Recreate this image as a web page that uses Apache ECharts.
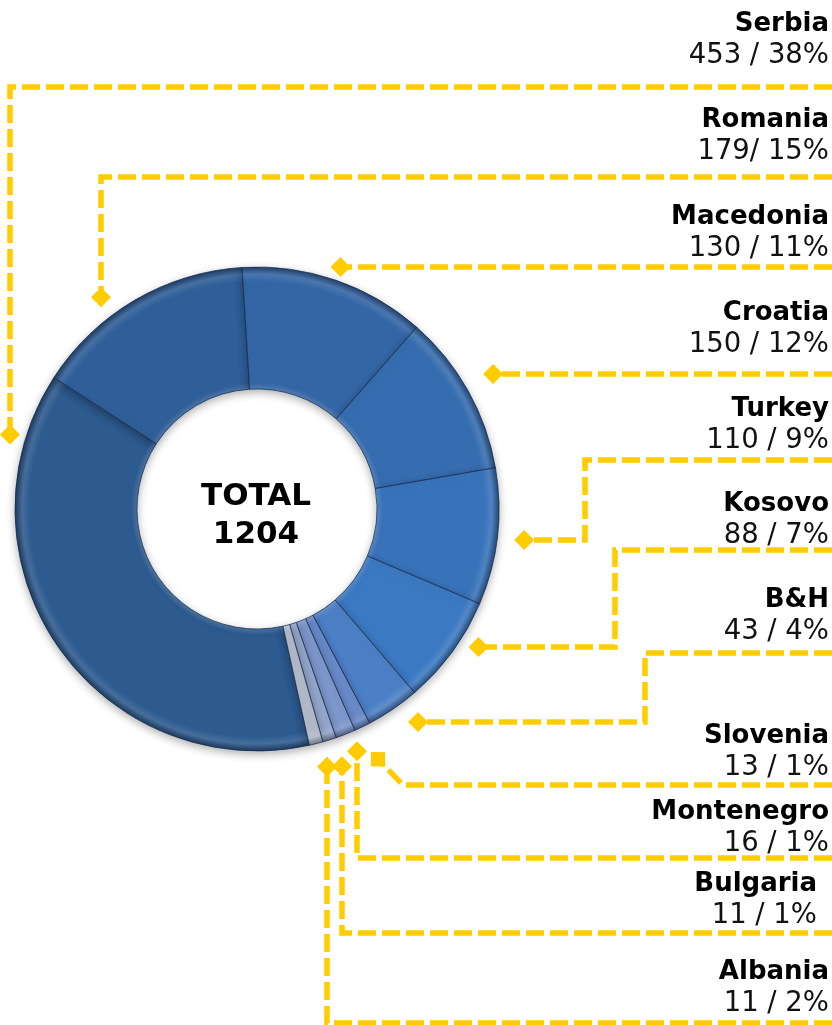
<!DOCTYPE html>
<html>
<head>
<meta charset="utf-8">
<script src="https://cdn.jsdelivr.net/npm/echarts@6/dist/echarts.min.js"></script>
<style>
  html, body { margin: 0; padding: 0; background: #fff; }
  #chart { width: 832px; height: 1025px; }
</style>
</head>
<body>
<div id="chart"></div>
<script>
// slices, clockwise in drawing order (Serbia first)
var sliceNames = ["Serbia", "Romania", "Croatia", "Macedonia", "Turkey", "Kosovo", "B&H", "Slovenia", "Montenegro", "Bulgaria", "Albania"];
var sliceValues = [453, 179, 150, 130, 110, 88, 43, 13, 16, 11, 11];
var sliceColors = ["#2d5a8f", "#2f5e98", "#3466a6", "#366db0", "#3873ba", "#3b79c2", "#4c80c6", "#6a8bcb", "#7e98cd", "#95a8ce", "#b3bbca"];

// right-hand labels, top to bottom
var labelNames = ["Serbia", "Romania", "Macedonia", "Croatia", "Turkey", "Kosovo", "B&H", "Slovenia", "Montenegro", "Bulgaria", "Albania"];
var labelTexts = ["453 / 38%", "179/ 15%", "130 / 11%", "150 / 12%", "110 / 9%", "88 / 7%", "43 / 4%", "13 / 1%", "16 / 1%", "11 / 1%", "11 / 2%"];

// layout
var cx = 257, cy = 509, rIn = 120, rOut = 242;
var labelY = [24, 120, 217, 313, 409, 504, 600, 736, 812, 884, 972];
var labelRight = [829, 829, 829, 829, 829, 829, 829, 829, 829, 817, 829];
var lineColor = "#ffcc00";
// leader routes: fixed bend points, last segment ends on a ring of radius r
var leaders = [
  { pts: [[832, 87], [10, 87]], end: "v", r: 258 },
  { pts: [[832, 177], [101, 177]], end: "v", r: 263 },
  { pts: [[832, 267]], end: "h", r: 256 },
  { pts: [[832, 374]], end: "h", r: 272 },
  { pts: [[832, 460], [585, 460], [585, 540]], end: "h", r: 269 },
  { pts: [[832, 550], [615, 550], [615, 647]], end: "h", r: 261 },
  { pts: [[832, 653], [645, 653], [645, 722]], end: "h", r: 267 },
  { pts: [[832, 785], [403, 785]], end: "mid", slice: 7, r: 278 },
  { pts: [[832, 858], [357, 858]], end: "v", r: 262 },
  { pts: [[832, 933], [342, 933]], end: "v", r: 271 },
  { pts: [[832, 1023], [327, 1023]], end: "v", r: 267 }
];

var total = sliceValues.reduce(function (a, b) { return a + b; }, 0);
var startAngle = 282.5; // Serbia begins just right of bottom

function shade(hex, amt) {
  var n = parseInt(hex.slice(1), 16);
  var r = (n >> 16) & 255, g = (n >> 8) & 255, b = n & 255;
  function f(c) {
    c = amt > 0 ? c + (255 - c) * amt : c * (1 + amt);
    return Math.round(Math.max(0, Math.min(255, c)));
  }
  return "rgb(" + f(r) + "," + f(g) + "," + f(b) + ")";
}

// bevel-like ring gradient
function ringFill(col) {
  var k = rIn / rOut;
  return {
    type: "radial", x: cx, y: cy, r: rOut, global: true,
    colorStops: [
      { offset: 0, color: shade(col, 0.15) },
      { offset: k, color: shade(col, 0.15) },
      { offset: k + 0.025, color: col },
      { offset: 0.94, color: col },
      { offset: 0.97, color: shade(col, 0.12) },
      { offset: 1, color: shade(col, -0.35) }
    ]
  };
}

var pieData = sliceNames.map(function (n, i) {
  return {
    name: n,
    value: sliceValues[i],
    itemStyle: { color: ringFill(sliceColors[i]) }
  };
});

// compass angle (deg, clockwise from top) of the middle of a slice
function sliceMid(idx) {
  var before = 0;
  for (var i = 0; i < idx; i++) before += sliceValues[i];
  var a0 = 90 - startAngle;
  return a0 + (before + sliceValues[idx] / 2) / total * 360;
}

function leaderEnd(ld) {
  var last = ld.pts[ld.pts.length - 1];
  if (ld.end === "v") {
    var dx = last[0] - cx;
    var d = Math.sqrt(ld.r * ld.r - dx * dx);
    var y1 = cy - d, y2 = cy + d;
    return [last[0], Math.abs(y1 - last[1]) < Math.abs(y2 - last[1]) ? y1 : y2];
  }
  if (ld.end === "h") {
    var dy = last[1] - cy;
    var e = Math.sqrt(ld.r * ld.r - dy * dy);
    var x1 = cx - e, x2 = cx + e;
    return [Math.abs(x1 - last[0]) < Math.abs(x2 - last[0]) ? x1 : x2, last[1]];
  }
  var a = sliceMid(ld.slice) * Math.PI / 180;
  return [cx + ld.r * Math.sin(a), cy - ld.r * Math.cos(a)];
}

var graphics = [];

leaders.forEach(function (ld) {
  var endPt = leaderEnd(ld);
  var pts = ld.pts.concat([endPt]);
  var prev = pts[pts.length - 2];
  var rot = Math.atan2(endPt[1] - prev[1], endPt[0] - prev[0]);
  graphics.push({
    type: "polyline",
    z: 10,
    shape: { points: pts },
    style: { stroke: lineColor, lineWidth: 5.5, lineDash: [18, 6], fill: null }
  });
  graphics.push({
    type: "polygon",
    z: 11,
    x: endPt[0], y: endPt[1],
    rotation: -rot,
    shape: { points: [[10, 0], [0, 10], [-10, 0], [0, -10]] },
    style: { fill: lineColor }
  });
});

labelNames.forEach(function (n, i) {
  graphics.push({
    type: "text",
    z: 12,
    x: labelRight[i], y: labelY[i],
    style: {
      text: n, fill: "#000",
      font: 'bold 26px "DejaVu Sans"',
      align: "right", verticalAlign: "middle",
      textAlign: "right", textVerticalAlign: "middle"
    }
  });
  graphics.push({
    type: "text",
    z: 12,
    x: labelRight[i], y: labelY[i] + 32,
    style: {
      text: labelTexts[i], fill: "#111",
      font: '27.5px "DejaVu Sans"',
      align: "right", verticalAlign: "middle",
      textAlign: "right", textVerticalAlign: "middle"
    }
  });
});

graphics.push({
  type: "text",
  z: 12,
  x: 256, y: 516,
  style: {
    text: "TOTAL\n" + total, fill: "#000",
    font: 'bold 31px "DejaVu Sans"',
    lineHeight: 38,
    align: "center", verticalAlign: "middle",
    textAlign: "center", textVerticalAlign: "middle"
  }
});

var chart = echarts.init(document.getElementById("chart"));
chart.setOption({
  backgroundColor: "#fff",
  animation: false,
  series: [{
    type: "pie",
    silent: true,
    center: [cx, cy],
    radius: [rIn, rOut],
    startAngle: startAngle,
    clockwise: true,
    label: { show: false },
    labelLine: { show: false },
    itemStyle: {
      borderColor: "rgba(20,40,72,0.7)",
      borderWidth: 1,
      shadowBlur: 8,
      shadowOffsetY: 3,
      shadowColor: "rgba(0,0,0,0.3)"
    },
    data: pieData
  }],
  graphic: graphics
});
</script>
</body>
</html>
